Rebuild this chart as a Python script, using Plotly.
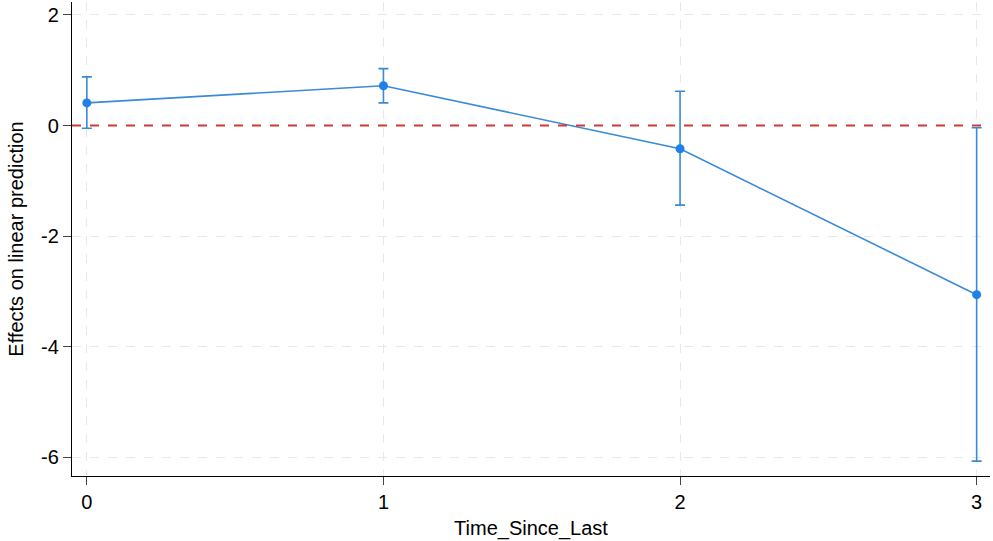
import plotly.graph_objects as go

time_since_last = [0, 1, 2, 3]
effects = [0.41, 0.72, -0.42, -3.06]
ci_upper = [0.88, 1.03, 0.62, -0.04]
ci_lower = [-0.05, 0.41, -1.44, -6.07]
y_ticks = [-6, -4, -2, 0, 2]
y_tick_labels = ["-6", "-4", "-2", "0", "2"]
x_ticks = [0, 1, 2, 3]

line_color = "#3a8ad8"

fig = go.Figure()
fig.add_trace(go.Scatter(
    x=time_since_last, y=effects, mode="lines+markers",
    line=dict(color=line_color, width=1.6),
    marker=dict(color="#1f80e8", size=9),
    error_y=dict(type="data", symmetric=False,
                 array=[u - e for u, e in zip(ci_upper, effects)],
                 arrayminus=[e - l for e, l in zip(effects, ci_lower)],
                 color=line_color, thickness=1.6, width=5),
    showlegend=False,
))
fig.add_hline(y=0, line=dict(color="#d03a36", width=2, dash="dash"))

fig.update_layout(
    width=993, height=541,
    margin=dict(l=72, r=3, t=2, b=65),
    paper_bgcolor="white", plot_bgcolor="white",
    font=dict(family="Liberation Sans, Arial, sans-serif", size=21, color="black"),
    xaxis=dict(range=[-0.05, 3.045], tickvals=x_ticks, ticks="outside", ticklen=8,
               showline=True, linecolor="black", linewidth=1.2,
               showgrid=True, gridcolor="#e8e8e8", griddash="dash", gridwidth=1,
               zeroline=False, tickfont=dict(size=20),
               title=dict(text="Time_Since_Last", font=dict(size=20), standoff=8)),
    yaxis=dict(range=[-6.34, 2.235], tickvals=y_ticks, ticktext=y_tick_labels,
               ticks="outside", ticklen=8,
               showline=True, linecolor="black", linewidth=1.2,
               showgrid=True, gridcolor="#e8e8e8", griddash="dash", gridwidth=1,
               zeroline=False, tickfont=dict(size=20),
               title=dict(text="Effects on linear prediction", font=dict(size=20), standoff=12)),
)

fig.write_html("out.html", config={"displayModeBar": False},
               post_script="document.body.style.margin='0';")
